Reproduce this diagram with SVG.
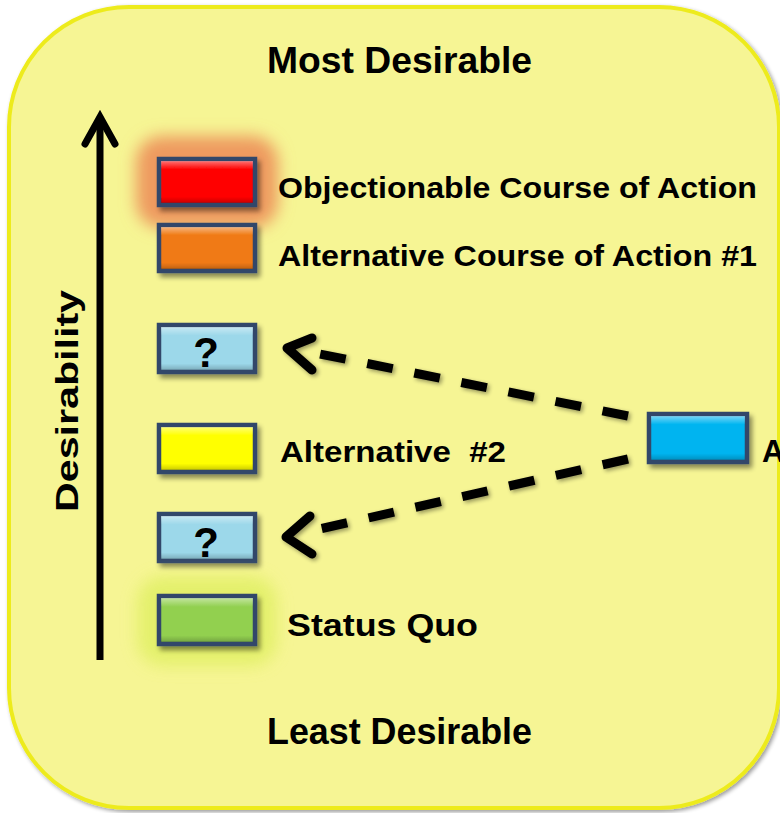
<svg xmlns="http://www.w3.org/2000/svg" width="780" height="813" viewBox="0 0 780 813">
<defs>
<style>
.t{font-family:"Liberation Sans",Arial,sans-serif;font-weight:bold;fill:#000}
.box{stroke:#33476A;stroke-width:4.5}
.dash{fill:none;stroke:#000;stroke-width:9;stroke-dasharray:26 22}
.head{fill:none;stroke:#000;stroke-width:9;stroke-linecap:round;stroke-linejoin:round}
</style>
<filter id="sh" x="-20%" y="-30%" width="150%" height="180%">
<feGaussianBlur in="SourceAlpha" stdDeviation="2.5"/>
<feOffset dx="3" dy="4" result="o"/>
<feComponentTransfer><feFuncA type="linear" slope="0.45"/></feComponentTransfer>
<feMerge><feMergeNode/><feMergeNode in="SourceGraphic"/></feMerge>
</filter>
<filter id="glow" x="-60%" y="-100%" width="220%" height="300%">
<feGaussianBlur stdDeviation="8"/>
</filter>
<filter id="bsh" x="-5%" y="-5%" width="110%" height="110%">
<feGaussianBlur in="SourceAlpha" stdDeviation="2"/>
<feOffset dx="2" dy="2"/>
<feComponentTransfer><feFuncA type="linear" slope="0.4"/></feComponentTransfer>
<feMerge><feMergeNode/><feMergeNode in="SourceGraphic"/></feMerge>
</filter>
<linearGradient id="hl" x1="0" y1="0" x2="0" y2="1">
<stop offset="0" stop-color="#fff" stop-opacity="0.45"/>
<stop offset="0.2" stop-color="#fff" stop-opacity="0"/>
<stop offset="0.85" stop-color="#000" stop-opacity="0"/>
<stop offset="1" stop-color="#000" stop-opacity="0.2"/>
</linearGradient>
</defs>

<g id="background">
<rect x="9" y="7" width="770" height="801" rx="120" ry="120" fill="#F6F594" stroke="#EDEB1E" stroke-width="4" filter="url(#bsh)"/>
</g>

<g id="title-top"><text class="t" x="399.5" y="73" font-size="36" text-anchor="middle" textLength="265" lengthAdjust="spacingAndGlyphs">Most Desirable</text></g>
<g id="title-bottom"><text class="t" x="399.5" y="744" font-size="36" text-anchor="middle" textLength="265" lengthAdjust="spacingAndGlyphs">Least Desirable</text></g>

<g id="axis">
<line x1="100" y1="660" x2="100" y2="118" stroke="#000" stroke-width="7"/>
<polyline points="85,144 100,117 115,144" fill="none" stroke="#000" stroke-width="7" stroke-linecap="round" stroke-linejoin="miter"/>
<text class="t" transform="translate(78,401) rotate(-90)" font-size="32" text-anchor="middle" textLength="222" lengthAdjust="spacingAndGlyphs">Desirability</text>
</g>

<g id="connectors">
<g filter="url(#bsh)">
<line class="dash" x1="628" y1="416" x2="300" y2="350"/>
<polyline class="head" points="312,338 287,348 312,370"/>
<line class="dash" x1="628" y1="459" x2="302" y2="533"/>
<polyline class="head" points="310,516 286,537 312,554"/>
</g>
</g>

<g id="objectionable">
<rect x="136" y="136" width="142" height="92" rx="26" fill="#EE9A5E" filter="url(#glow)"/>
<g filter="url(#sh)">
<rect class="box" x="159" y="159" width="96" height="46" fill="#FF0000"/>
<rect x="161" y="161" width="92" height="42" fill="url(#hl)"/>
</g>
<text class="t" x="278" y="198" font-size="30" textLength="479" lengthAdjust="spacingAndGlyphs">Objectionable Course of Action</text>
</g>

<g id="alternative1">
<g filter="url(#sh)">
<rect class="box" x="159" y="225" width="96" height="46" fill="#F07A14"/>
<rect x="161" y="227" width="92" height="42" fill="url(#hl)"/>
</g>
<text class="t" x="278" y="266" font-size="30" textLength="479" lengthAdjust="spacingAndGlyphs">Alternative Course of Action #1</text>
</g>

<g id="unknown-upper">
<g filter="url(#sh)">
<rect class="box" x="159" y="325" width="96" height="47" fill="#9CD8EA"/>
<rect x="161" y="327" width="92" height="43" fill="url(#hl)"/>
</g>
<text class="t" x="206" y="367" font-size="42" text-anchor="middle">?</text>
</g>

<g id="alternative2">
<g filter="url(#sh)">
<rect class="box" x="159" y="425" width="96" height="47" fill="#FFFF00"/>
<rect x="161" y="427" width="92" height="43" fill="url(#hl)"/>
</g>
<text class="t" x="280" y="462" font-size="30" textLength="226" lengthAdjust="spacingAndGlyphs" xml:space="preserve">Alternative  #2</text>
</g>

<g id="unknown-lower">
<g filter="url(#sh)">
<rect class="box" x="159" y="514" width="96" height="47" fill="#9CD8EA"/>
<rect x="161" y="516" width="92" height="43" fill="url(#hl)"/>
</g>
<text class="t" x="206" y="557" font-size="42" text-anchor="middle">?</text>
</g>

<g id="status-quo">
<rect x="137" y="576" width="140" height="90" rx="26" fill="#E2F068" opacity="0.9" filter="url(#glow)"/>
<g filter="url(#sh)">
<rect class="box" x="159" y="596" width="96" height="48" fill="#92D050"/>
<rect x="161" y="598" width="92" height="44" fill="url(#hl)"/>
</g>
<text class="t" x="287" y="636" font-size="31" textLength="191" lengthAdjust="spacingAndGlyphs">Status Quo</text>
</g>

<g id="new-alternative">
<g filter="url(#sh)">
<rect class="box" x="649" y="414" width="98" height="48" fill="#00B4F0"/>
<rect x="651" y="416" width="94" height="44" fill="url(#hl)"/>
</g>
<text class="t" x="762" y="462" font-size="31">A</text>
</g>
</svg>
